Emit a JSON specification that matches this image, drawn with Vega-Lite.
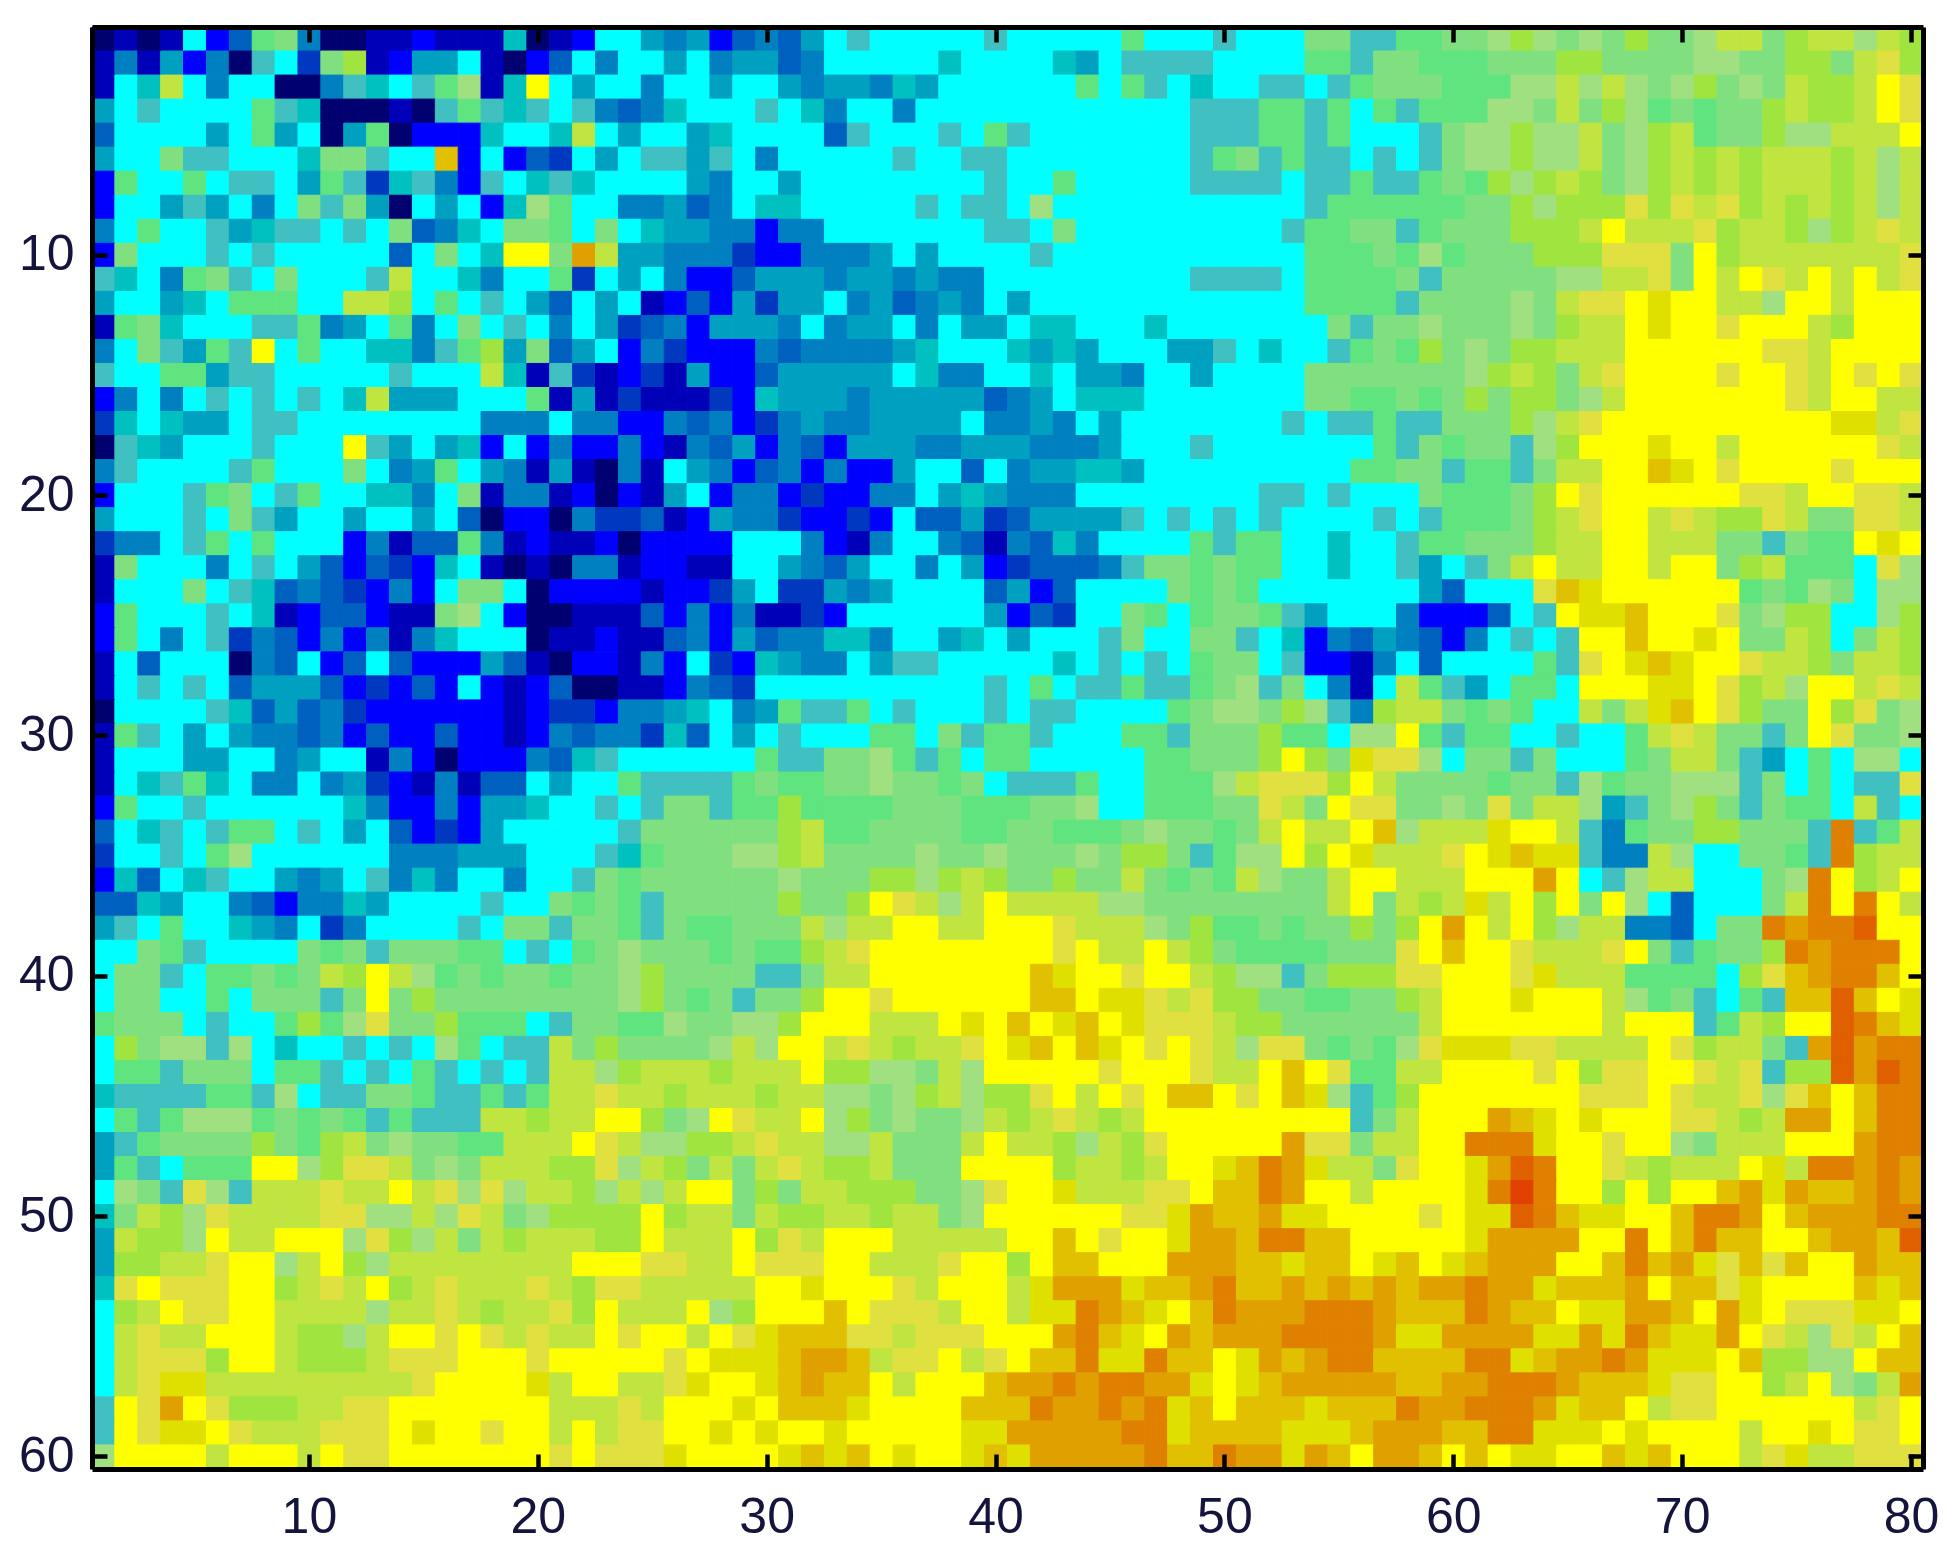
{"$schema":"https://vega.github.io/schema/vega-lite/v6.json","autosize":{"type":"none"},"padding":{"left":92,"top":27,"right":32,"bottom":93},"width":1831,"height":1442,"background":"white","config":{"view":{"stroke":null},"axis":{"grid":false,"title":null,"domainColor":"black","domainWidth":5,"tickColor":"black","tickWidth":4.5,"labelFont":"Liberation Sans","labelFontSize":50,"labelColor":"#14143c","labelAngle":0}},"data":{"values":[
{"y":1,"v":[0,1,0,1,8,2,4,10,11,5,0,0,1,1,2,1,1,1,7,0,1,2,8,8,6,5,6,2,4,5,4,6,8,9,8,8,8,8,8,9,8,8,8,8,8,10,8,8,8,9,8,8,8,11,11,9,9,10,10,11,11,12,13,12,11,12,11,13,11,11,12,14,14,11,13,14,14,12,14,13]},
{"y":2,"v":[1,5,1,6,2,5,0,9,8,3,11,13,1,2,6,6,8,1,0,2,4,8,5,8,8,6,8,5,6,6,4,5,8,8,8,8,8,7,8,8,8,8,7,6,8,9,9,9,9,8,8,8,8,10,10,9,11,11,10,10,10,11,11,11,13,13,11,11,11,11,12,12,11,11,13,13,11,14,15,13]},
{"y":3,"v":[1,8,7,14,8,5,8,8,0,0,5,9,7,8,9,10,12,1,7,16,8,6,8,8,5,8,8,6,8,8,6,5,6,6,5,7,6,8,8,8,8,8,8,10,8,10,9,8,7,8,8,9,9,8,9,10,11,11,11,10,10,10,12,12,14,12,14,12,11,12,13,11,12,11,14,13,13,14,16,15]},
{"y":4,"v":[6,8,9,8,8,8,8,10,9,7,0,0,0,1,0,9,10,9,7,9,8,9,5,4,5,7,8,8,8,9,8,7,5,8,8,5,8,8,8,8,8,8,8,8,8,8,8,8,9,9,9,10,10,9,10,8,10,9,10,10,10,12,12,11,14,11,13,12,10,11,10,11,11,13,14,13,13,14,16,15]},
{"y":5,"v":[4,8,8,8,8,6,8,10,6,8,0,6,10,0,2,2,2,7,8,8,7,14,8,6,8,8,6,7,8,8,8,8,4,9,8,8,8,9,8,10,9,8,8,8,8,8,8,8,9,9,9,10,10,9,10,8,8,8,9,11,12,12,13,12,12,14,11,12,13,14,10,11,11,13,12,12,14,14,14,16]},
{"y":6,"v":[6,8,8,11,9,9,8,8,8,7,11,11,9,8,8,18,2,8,2,4,3,8,6,8,9,9,6,9,8,5,8,8,8,8,8,9,8,8,9,9,8,8,8,8,8,8,8,8,9,10,11,9,10,9,9,8,9,8,9,11,12,12,13,12,12,14,11,12,13,14,13,14,13,14,14,14,13,14,12,14]},
{"y":7,"v":[2,10,8,8,10,8,9,9,8,6,10,9,3,7,9,5,2,9,8,7,9,7,8,8,8,8,6,5,8,8,6,8,8,8,8,8,8,8,8,9,8,8,10,8,8,8,8,8,9,9,9,9,8,9,9,10,9,9,10,11,10,13,12,13,14,13,11,12,13,14,13,14,13,14,14,14,13,14,12,14]},
{"y":8,"v":[2,8,8,6,9,6,8,5,8,11,9,11,6,0,8,6,8,2,7,12,10,8,8,5,5,6,4,5,8,7,7,8,8,8,8,8,9,8,9,9,8,12,8,8,8,8,8,8,8,8,8,8,8,9,10,10,10,10,10,10,11,11,13,12,13,13,13,15,13,15,14,15,13,14,13,14,13,14,12,14]},
{"y":9,"v":[5,8,10,8,8,9,6,7,9,9,8,9,8,11,4,5,7,8,11,11,10,8,11,8,7,6,6,5,5,2,5,5,8,8,8,8,8,8,8,9,9,8,11,8,8,8,8,8,8,8,8,8,9,10,10,11,11,9,10,11,11,11,13,13,13,14,16,14,14,14,15,13,14,14,13,12,13,14,15,14]},
{"y":10,"v":[2,11,8,8,8,9,8,9,8,8,8,8,8,4,8,11,8,7,16,16,11,19,14,6,6,5,5,5,3,2,2,5,5,5,6,8,6,8,8,8,8,9,8,8,8,8,8,8,8,8,8,8,8,10,10,10,11,10,12,10,11,11,11,13,13,13,15,15,15,11,16,13,14,14,14,14,14,14,14,15]},
{"y":11,"v":[9,7,8,5,10,11,9,8,11,8,8,8,9,14,8,8,7,5,8,8,10,3,8,6,8,5,2,2,4,6,6,6,5,6,6,5,6,5,5,8,8,8,8,8,8,8,8,8,9,9,9,9,8,10,10,10,10,11,9,11,11,11,11,11,12,12,14,14,15,11,16,14,16,15,14,16,14,16,14,15]},
{"y":12,"v":[6,8,8,6,7,8,10,10,10,8,8,14,14,13,8,10,8,9,8,6,4,8,6,8,1,2,4,2,6,3,6,6,8,5,6,4,5,6,5,8,6,8,8,8,8,8,8,8,8,8,8,8,8,10,10,10,10,9,11,11,11,11,12,11,14,15,15,16,17,16,16,14,14,12,16,16,14,16,16,16]},
{"y":13,"v":[1,10,11,7,8,8,8,9,9,10,5,6,8,10,5,8,11,8,9,8,5,8,6,3,4,5,2,6,6,6,5,8,5,6,6,8,5,8,6,6,8,7,7,8,8,8,7,8,8,8,8,8,8,8,11,9,11,11,12,11,11,11,12,11,13,14,14,16,17,16,16,15,16,16,16,14,13,16,16,16]},
{"y":14,"v":[5,8,11,9,6,10,9,16,8,10,8,8,7,7,5,9,10,13,6,11,4,6,8,2,5,3,2,2,2,5,4,5,5,5,5,6,7,8,8,8,7,6,7,6,8,8,8,6,6,9,8,7,8,8,9,10,11,10,13,11,12,11,13,13,14,14,14,16,16,16,16,16,16,15,15,14,16,16,16,16]},
{"y":15,"v":[9,8,8,10,10,6,9,9,8,8,8,8,8,9,8,8,8,14,7,1,9,3,1,2,3,1,6,2,2,4,6,6,6,6,6,8,7,5,5,8,8,7,8,6,6,5,8,8,6,8,8,8,8,11,11,11,11,11,11,11,12,13,14,13,11,14,15,16,16,16,16,15,16,16,15,14,16,15,16,15]},
{"y":16,"v":[2,5,8,5,8,9,8,9,8,9,8,7,14,6,6,6,8,8,8,10,1,6,1,3,1,1,1,3,2,7,6,6,6,5,6,6,6,6,6,4,5,6,8,7,7,7,8,8,8,8,8,8,8,11,11,10,10,11,10,11,13,11,13,13,11,12,14,16,16,16,16,16,16,16,15,14,16,16,14,14]},
{"y":17,"v":[3,7,8,7,6,6,8,9,9,8,8,8,8,8,8,8,8,5,5,5,8,5,5,2,2,5,4,5,2,3,5,6,5,5,6,6,6,6,8,5,5,6,5,8,6,8,8,8,8,8,8,8,9,8,9,9,10,9,9,11,11,11,13,12,14,15,16,16,16,16,16,16,16,16,16,16,17,17,14,15]},
{"y":18,"v":[0,9,7,6,8,8,8,9,8,8,8,16,9,6,8,6,7,2,8,2,5,2,2,5,2,1,5,4,6,2,5,4,2,6,6,6,5,5,6,6,6,5,5,5,6,8,8,8,9,8,8,8,8,8,8,8,10,9,11,10,11,11,9,12,13,16,16,16,17,16,16,14,16,16,16,16,16,16,15,14]},
{"y":19,"v":[5,9,8,8,8,8,9,10,8,8,8,11,8,5,6,10,8,6,5,1,6,1,0,5,1,8,6,5,2,4,5,2,5,2,2,6,8,8,4,8,5,6,6,7,7,6,8,8,8,8,8,8,8,8,8,10,10,11,11,9,10,10,9,11,14,14,16,16,18,17,16,15,16,16,16,16,15,16,16,16]},
{"y":20,"v":[2,8,8,8,9,10,11,8,9,10,8,8,7,7,5,8,11,1,5,5,1,2,0,2,1,6,8,2,5,5,2,3,2,2,5,5,8,6,7,6,5,5,5,8,8,8,8,8,8,8,8,9,9,8,9,8,8,8,11,10,10,10,11,13,16,15,16,16,16,16,16,16,15,15,14,16,16,15,15,14]},
{"y":21,"v":[6,8,8,8,9,8,11,9,6,8,8,6,8,8,6,8,4,0,2,2,0,5,3,3,4,1,2,6,5,5,3,2,2,3,2,8,4,4,6,3,4,6,6,6,6,9,8,9,8,9,8,9,8,8,8,8,9,8,9,10,10,10,11,13,14,15,16,16,14,15,14,13,13,15,14,11,11,15,15,14]},
{"y":22,"v":[3,5,5,8,9,10,8,10,8,8,8,2,5,1,4,4,10,5,1,2,1,1,2,0,2,2,2,2,8,8,8,5,2,1,5,8,8,5,4,1,5,4,7,5,8,8,8,8,10,9,10,10,8,8,7,8,8,9,10,10,11,11,11,13,14,14,16,16,14,14,14,11,11,9,11,10,10,16,17,16]},
{"y":23,"v":[1,11,8,8,8,5,8,9,8,6,4,2,4,3,2,7,8,1,0,1,0,5,5,1,2,2,1,1,8,8,6,5,4,6,8,8,5,8,6,2,3,4,4,4,5,9,11,11,10,11,10,10,8,8,7,8,8,9,6,8,9,11,14,16,14,14,16,16,14,16,16,11,13,14,10,10,10,8,15,12]},
{"y":24,"v":[1,8,8,8,11,8,9,7,4,5,4,3,2,5,2,8,11,11,8,0,2,2,2,2,1,2,2,3,6,8,3,3,6,5,6,8,8,8,8,4,6,2,4,8,8,8,8,11,10,11,10,8,8,8,8,8,8,8,6,4,8,8,8,15,18,17,16,16,16,16,16,16,10,11,10,12,11,8,12,12]},
{"y":25,"v":[2,10,8,8,8,9,8,7,1,2,4,4,2,1,1,11,12,8,2,0,0,1,1,1,4,2,5,2,5,1,1,3,2,8,8,8,8,8,8,6,2,4,3,8,8,11,10,8,10,11,11,10,9,6,8,8,8,5,2,2,2,4,8,9,16,17,17,18,16,16,16,15,11,12,13,13,8,8,12,13]},
{"y":26,"v":[2,10,8,5,8,9,3,5,4,2,5,2,5,1,5,7,8,8,8,0,1,1,2,1,1,4,5,2,6,4,5,5,7,7,5,8,8,6,7,8,6,8,8,8,9,11,8,8,11,11,9,8,7,2,5,4,6,5,4,2,5,8,9,8,9,16,16,18,16,16,17,16,11,11,14,13,8,11,14,13]},
{"y":27,"v":[1,8,4,8,8,8,0,5,4,8,2,4,8,4,2,2,2,6,4,1,0,2,2,1,5,2,8,3,2,7,6,5,5,8,6,9,9,8,8,8,8,8,7,8,9,8,9,8,10,11,11,8,9,2,2,1,5,8,4,8,8,8,8,10,9,15,16,17,18,17,16,16,15,14,14,13,11,14,14,13]},
{"y":28,"v":[1,8,9,8,9,8,4,6,6,6,4,2,3,2,4,2,8,2,1,2,4,0,0,1,1,2,5,4,3,8,8,8,8,8,8,8,8,8,8,9,8,10,8,9,9,10,9,9,10,11,12,9,11,8,5,1,8,14,10,9,6,8,10,10,8,16,16,16,17,17,16,15,13,14,12,16,16,14,15,14]},
{"y":29,"v":[0,8,8,8,8,9,7,4,6,4,5,3,2,2,2,2,2,2,1,2,3,3,2,5,5,6,7,8,5,6,10,9,9,10,8,9,8,8,8,9,8,9,9,8,8,8,8,10,11,12,12,11,13,12,9,5,13,14,14,11,10,11,10,8,8,14,11,14,17,18,16,15,13,11,11,16,13,15,11,12]},
{"y":30,"v":[1,10,9,8,6,8,6,5,5,4,5,2,4,2,2,4,2,2,1,2,5,4,5,5,3,7,4,8,6,8,9,8,8,8,10,10,8,11,9,10,10,9,8,8,8,10,10,9,11,11,11,13,10,10,8,12,12,16,10,9,10,10,8,8,9,8,8,10,14,15,14,11,11,9,11,16,15,11,11,12]},
{"y":31,"v":[1,8,8,8,6,6,8,8,5,6,8,8,1,5,2,0,2,2,2,5,4,7,9,8,8,8,8,8,8,10,9,9,11,11,12,10,9,10,8,10,10,8,8,8,8,8,10,10,11,11,11,13,16,13,11,17,15,15,12,8,11,11,9,11,8,8,8,10,11,14,14,11,9,6,8,10,8,12,12,8]},
{"y":32,"v":[1,8,7,9,10,7,8,5,5,8,5,6,3,2,1,5,1,4,4,8,6,8,8,10,9,9,9,9,10,11,10,10,11,11,12,11,11,10,11,8,9,9,9,10,8,8,10,10,10,12,14,15,15,15,13,16,14,11,11,11,11,10,11,11,9,12,10,11,11,12,12,12,9,11,8,10,8,9,9,15]},
{"y":33,"v":[2,10,8,8,9,8,8,8,8,8,8,7,5,2,2,5,2,6,6,7,8,8,9,8,9,11,11,9,10,10,13,10,10,10,10,11,11,11,10,10,10,11,11,12,8,8,10,10,10,11,11,15,14,11,16,15,15,11,11,12,11,15,11,14,14,12,6,9,11,12,13,11,9,11,10,10,8,14,9,8]},
{"y":34,"v":[4,8,7,9,8,9,10,10,8,9,8,6,8,4,2,3,2,6,8,8,8,8,8,9,11,11,11,11,11,11,13,14,10,10,11,11,11,11,10,10,11,11,10,10,10,11,12,11,11,10,11,14,16,14,14,16,18,12,14,14,14,17,16,16,14,9,5,10,11,11,13,13,11,11,11,9,20,9,10,14]},
{"y":35,"v":[3,8,8,9,8,10,12,8,8,8,8,8,8,5,5,5,6,6,6,8,8,8,9,7,10,11,11,11,12,12,13,14,11,11,11,11,12,11,11,12,11,11,11,12,11,13,13,11,9,10,12,12,16,13,16,17,14,14,14,15,16,17,18,17,17,9,5,5,14,12,8,8,11,11,10,9,20,13,14,14]},
{"y":36,"v":[2,7,4,8,7,9,8,8,6,5,6,8,9,5,7,5,8,8,5,8,8,9,11,10,11,11,11,11,11,11,12,11,11,11,13,13,12,13,14,13,11,11,13,11,11,14,11,10,11,10,14,12,11,11,14,16,16,14,14,14,16,16,16,19,16,8,9,12,14,14,8,8,8,11,12,20,16,13,14,16]},
{"y":37,"v":[4,4,7,6,8,8,5,4,2,5,5,7,6,8,8,8,8,9,8,8,11,10,11,10,9,11,11,11,11,11,13,11,11,13,16,15,14,12,14,16,14,14,14,14,12,12,11,11,11,11,11,11,11,11,14,16,11,14,13,14,17,14,16,13,16,11,16,12,8,4,8,8,8,11,14,20,16,20,16,14]},
{"y":38,"v":[6,9,8,10,8,8,7,6,5,8,3,5,8,8,8,8,9,8,11,11,9,11,11,10,9,11,10,10,11,11,11,14,12,14,14,16,16,14,14,16,16,16,15,14,14,14,12,11,13,10,10,11,10,11,11,13,11,13,16,19,16,14,16,13,12,14,14,5,5,4,8,11,11,20,19,20,20,21,16,16]},
{"y":39,"v":[8,8,11,10,9,8,8,8,8,11,10,11,9,11,11,11,10,10,8,9,8,10,11,12,11,11,11,10,11,10,10,13,14,15,16,16,16,16,16,16,16,16,15,16,14,14,16,14,13,11,10,10,10,10,11,11,11,15,16,18,16,16,15,14,14,14,15,16,11,9,10,11,11,13,20,19,20,20,20,16]},
{"y":40,"v":[8,11,11,9,8,10,10,11,10,11,14,13,16,14,12,10,11,10,11,11,10,11,11,12,13,11,11,11,11,9,9,11,14,14,16,16,16,16,16,16,16,18,17,16,16,15,16,16,14,13,12,12,9,11,13,13,13,15,15,16,16,16,15,17,14,14,14,10,10,10,10,8,13,15,18,19,20,20,18,16]},
{"y":41,"v":[8,11,11,8,8,10,8,11,11,11,9,11,16,11,13,11,11,11,11,11,11,11,11,12,13,11,10,11,9,11,11,13,16,16,15,16,16,16,16,16,16,18,18,16,17,17,15,14,15,13,13,11,11,10,10,11,11,13,14,16,16,16,17,16,16,16,14,12,10,11,9,8,10,9,18,18,21,18,16,17]},
{"y":42,"v":[10,11,11,11,8,9,8,8,10,13,10,12,15,11,11,13,10,10,10,8,9,11,11,10,10,12,11,11,12,12,13,16,16,16,14,14,14,16,17,16,18,16,17,18,16,17,15,15,15,14,13,13,11,11,11,11,11,11,14,16,16,16,16,16,16,16,14,16,16,16,9,10,14,13,16,16,21,20,18,17]},
{"y":43,"v":[8,13,11,12,12,9,12,8,7,8,8,9,8,9,8,12,10,8,9,9,14,11,13,11,11,11,11,12,14,12,16,16,14,15,14,13,14,14,15,16,17,18,16,18,17,16,15,16,15,14,12,15,15,11,10,11,10,12,15,17,17,17,15,15,14,14,14,14,16,15,13,14,14,11,9,19,21,19,20,20]},
{"y":44,"v":[8,10,10,9,11,11,11,8,10,10,9,8,9,8,10,9,8,9,8,9,14,14,12,13,14,14,14,13,14,14,14,16,13,13,12,12,11,14,12,16,16,16,16,16,15,16,16,16,15,14,14,16,18,16,15,10,10,14,14,16,16,16,16,15,16,13,15,15,16,16,15,14,15,9,13,13,21,19,21,20]},
{"y":45,"v":[7,9,9,9,9,10,10,9,12,8,9,9,11,11,10,9,9,10,9,10,14,14,15,14,14,13,14,14,14,13,14,14,12,12,11,12,13,14,12,13,13,15,16,14,16,15,16,18,18,16,15,16,18,17,12,9,10,13,16,16,16,16,16,16,16,15,15,15,16,15,14,14,15,12,15,18,16,18,20,20]},
{"y":46,"v":[8,10,9,10,12,12,12,10,11,10,11,10,9,10,9,9,9,14,14,13,14,14,16,16,13,11,12,16,15,14,14,16,12,13,11,12,11,11,12,14,13,14,15,14,13,14,16,16,16,16,16,16,16,16,16,9,11,14,16,16,16,19,18,17,16,17,16,16,16,15,15,14,13,14,19,19,16,18,20,20]},
{"y":47,"v":[6,9,10,11,11,11,11,13,11,10,13,14,11,12,11,11,10,10,14,14,14,16,15,14,12,12,13,13,14,15,14,14,12,12,14,11,11,11,14,16,14,14,13,12,14,13,15,16,16,16,16,16,19,15,15,11,14,14,16,16,20,20,20,17,16,16,15,16,16,12,11,14,14,14,16,16,16,19,20,20]},
{"y":48,"v":[6,10,9,8,10,10,10,16,16,12,13,15,15,14,11,12,11,14,14,14,13,13,15,12,14,13,11,14,11,14,15,14,13,13,14,11,11,11,16,16,16,16,13,14,14,13,14,16,16,17,18,20,19,17,14,14,11,15,16,16,17,19,21,20,16,16,15,14,13,14,14,14,16,17,14,20,20,19,20,19]},
{"y":49,"v":[8,12,11,9,15,12,9,14,14,14,15,14,14,16,14,15,12,15,12,14,14,13,12,14,12,14,16,16,11,13,11,14,14,13,13,13,11,11,12,15,16,16,17,14,14,14,15,15,16,18,18,20,19,16,16,14,16,16,16,16,17,20,22,20,16,16,13,16,13,16,16,18,19,17,19,18,18,19,20,19]},
{"y":50,"v":[7,11,14,13,12,15,14,14,14,14,15,15,12,12,14,12,15,14,11,12,13,13,13,13,16,13,14,14,11,14,13,13,14,14,13,14,14,11,12,16,16,16,16,16,16,15,15,17,19,18,18,19,17,17,16,16,16,16,15,16,17,17,21,20,18,17,17,16,16,18,20,20,19,16,18,19,19,19,20,20]},
{"y":51,"v":[6,14,13,13,12,16,14,14,16,16,16,12,15,13,12,14,11,14,13,14,14,14,13,13,16,14,14,14,16,13,15,14,16,16,16,14,14,14,14,14,16,16,18,16,15,16,16,17,19,19,18,20,20,18,18,16,16,16,16,16,17,19,19,19,19,16,16,20,16,18,20,18,18,16,16,18,19,19,18,21]},
{"y":52,"v":[6,13,13,14,14,15,16,16,12,14,16,13,12,14,14,14,14,14,14,14,14,16,16,16,15,15,14,14,16,15,15,15,16,16,14,14,14,15,16,16,13,16,18,18,16,16,16,19,19,19,18,18,17,18,18,16,17,18,16,17,18,19,19,19,16,16,18,20,18,19,17,15,18,15,18,16,16,19,18,18]},
{"y":53,"v":[7,15,16,15,15,15,16,16,13,14,15,14,16,13,14,15,14,14,14,15,14,13,15,15,14,14,14,14,14,16,16,17,16,16,16,15,14,16,16,16,14,17,19,19,19,17,18,18,19,20,18,18,19,18,19,18,19,18,19,19,20,19,19,17,18,18,18,19,16,18,18,15,17,16,16,16,16,18,17,18]},
{"y":54,"v":[8,13,14,16,15,15,16,16,14,14,14,14,12,14,14,15,14,13,14,14,15,13,16,14,14,14,16,12,13,16,16,16,18,16,15,15,15,14,16,16,14,17,17,20,19,18,17,16,18,20,19,19,19,20,20,20,19,18,18,18,20,19,18,18,16,17,17,19,19,18,16,19,17,16,15,15,15,17,17,16]},
{"y":55,"v":[8,14,15,14,14,16,16,16,14,13,13,12,14,16,16,15,16,15,14,15,14,14,16,15,16,16,14,16,15,17,18,18,18,15,15,14,15,15,15,16,16,16,19,20,18,17,16,19,18,19,19,19,20,20,20,20,19,17,17,19,19,19,19,17,17,19,17,20,18,17,17,19,16,15,14,12,15,14,16,18]},
{"y":56,"v":[8,14,15,15,15,13,16,16,14,13,13,13,14,15,15,15,16,16,16,15,16,16,16,16,16,15,16,17,17,17,18,19,19,18,14,15,15,16,14,15,16,18,18,20,17,17,20,18,18,16,17,19,18,19,20,20,18,18,18,18,20,20,17,18,19,19,20,19,17,17,17,16,18,13,13,12,12,16,18,18]},
{"y":57,"v":[8,14,15,17,17,14,14,14,14,14,14,14,14,14,15,16,16,16,16,17,14,16,16,14,14,15,17,16,16,17,18,19,18,18,16,14,16,16,16,18,19,19,20,19,20,20,19,19,17,16,17,18,19,19,19,19,19,18,18,19,19,20,20,20,19,18,18,18,17,15,15,16,16,13,14,16,12,11,14,19]},
{"y":58,"v":[9,16,15,19,16,15,13,13,13,14,14,15,15,16,16,16,16,16,16,16,14,14,14,15,14,16,16,16,17,16,18,18,18,17,16,16,16,16,18,18,18,20,19,19,20,19,20,17,18,16,18,18,18,17,18,18,18,20,19,19,20,20,20,19,17,18,18,16,14,15,15,16,16,16,16,16,16,14,15,16]},
{"y":59,"v":[9,16,15,17,17,16,15,14,14,14,15,15,15,16,17,16,16,15,16,16,14,16,14,15,15,16,16,17,16,17,16,16,17,16,16,16,16,16,17,17,19,19,19,19,19,20,20,17,18,18,18,18,17,17,17,18,19,19,19,18,18,20,20,17,17,17,16,17,16,16,16,16,14,16,16,17,16,15,15,16]},
{"y":60,"v":[12,16,16,16,16,14,16,16,16,14,16,15,15,16,16,16,16,16,16,16,15,16,15,15,15,17,16,16,16,16,17,18,17,18,16,17,16,16,17,18,17,19,19,19,19,19,20,18,18,20,19,19,17,19,18,16,19,19,18,16,18,16,17,17,16,16,18,17,18,16,16,16,14,15,17,14,14,15,15,15]}
]},"transform":[{"flatten":["v"]},{"window":[{"op":"row_number","as":"x"}],"groupby":["y"]}],"layer":[{"mark":{"type":"rect","strokeWidth":1},"encoding":{"x":{"field":"x","type":"ordinal","scale":{"paddingInner":0,"paddingOuter":0},"axis":{"orient":"bottom","values":[10,20,30,40,50,60,70,80],"labelPadding":38,"tickSize":-15,"zindex":1}},"y":{"field":"y","type":"ordinal","scale":{"paddingInner":0,"paddingOuter":0},"axis":{"orient":"left","values":[10,20,30,40,50,60],"labelPadding":33,"tickSize":-15,"zindex":1}},"color":{"field":"v","type":"ordinal","legend":null,"scale":{"domain":[0,1,2,3,4,5,6,7,8,9,10,11,12,13,14,15,16,17,18,19,20,21,22],"range":["#000070","#0000b8","#0000ff","#0038c0","#0060c0","#0080c0","#00a0c0","#00c0c0","#00ffff","#40c0c0","#60e480","#80e080","#a0e080","#a0e440","#c0e440","#e0e040","#ffff00","#e0e000","#e0c000","#e0a000","#e08000","#e06000","#e04000"]}},"stroke":{"field":"v","type":"ordinal","legend":null,"scale":{"domain":[0,1,2,3,4,5,6,7,8,9,10,11,12,13,14,15,16,17,18,19,20,21,22],"range":["#000070","#0000b8","#0000ff","#0038c0","#0060c0","#0080c0","#00a0c0","#00c0c0","#00ffff","#40c0c0","#60e480","#80e080","#a0e080","#a0e440","#c0e440","#e0e040","#ffff00","#e0e000","#e0c000","#e0a000","#e08000","#e06000","#e04000"]}}}},{"mark":{"type":"rect","opacity":0},"encoding":{"x":{"field":"x","type":"ordinal","axis":{"orient":"top","values":[10,20,30,40,50,60,70,80],"labels":false,"tickSize":-15,"zindex":1}},"y":{"field":"y","type":"ordinal","axis":{"orient":"right","values":[10,20,30,40,50,60],"labels":false,"tickSize":-15,"zindex":1}}}}],"resolve":{"axis":{"x":"independent","y":"independent"}}}
